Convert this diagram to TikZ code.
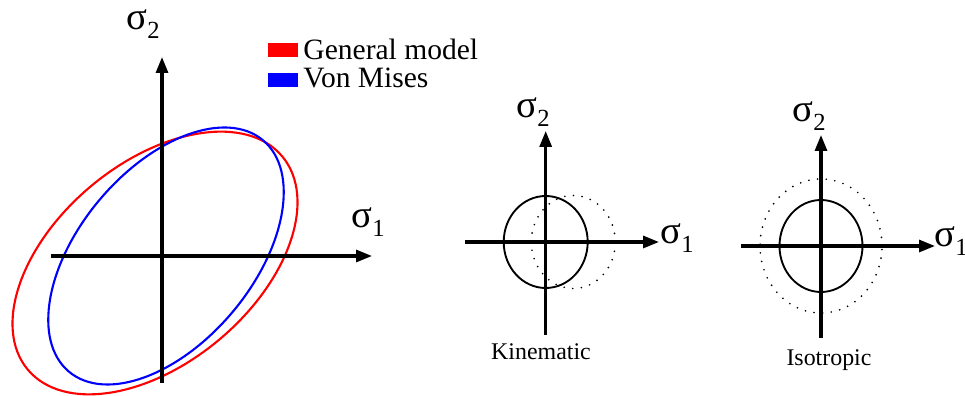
\documentclass[tikz,border=0pt]{standalone}
\usepackage{fontspec}
\setmainfont{Liberation Serif}
\usetikzlibrary{arrows.meta,positioning}
\definecolor{genred}{HTML}{FF0000}
\definecolor{misesblue}{HTML}{0000FF}
\newcommand{\sig}[1]{σ\raisebox{-0.55ex}{\fontsize{10.5}{10.5}\selectfont #1}}
\tikzset{
  axis/.style={-{Triangle[length=2.4mm,width=1.8mm]}, line width=1.3pt, draw=black},
  yieldcurve/.style={line width=0.9pt},
  surface/.style={draw=black, line width=0.8pt},
  oldsurface/.style={draw=black, line width=0.8pt, line cap=round,
                     dash pattern=on 0pt off 3.7pt},
  sigmalab/.style={font=\fontsize{16.5}{16.5}\selectfont, inner sep=0pt},
  caption/.style={font=\fontsize{10.2}{12}\selectfont, inner sep=0pt},
  legendbox/.style={minimum width=0.45cm, minimum height=0.21cm, inner sep=0pt},
  legendtext/.style={font=\fontsize{12.6}{14}\selectfont, inner sep=0pt, anchor=base west}
}

\begin{document}
\begin{tikzpicture}[x=0.015cm,y=0.015cm]
  \useasboundingbox (0,0) rectangle (965,396);
  % general model versus von mises
  \draw[yieldcurve,draw=genred,rotate around={40:(155,133)}] (155,133) ellipse (166 and 100);
  \draw[yieldcurve,draw=misesblue,rotate around={50:(166,140)}] (166,140) ellipse (151 and 87);
  \coordinate (h1s) at (51,140);  \coordinate (h1e) at (372,140);
  \coordinate (v1s) at (162,13);  \coordinate (v1e) at (162,339);
  \draw[axis] (h1s) -- (h1e);
  \draw[axis] (v1s) -- (v1e);
  \node[sigmalab] (s1a) at (368,174) {\sig{1}};
  \node[sigmalab] (s2a) at (143,372) {\sig{2}};
  % legend
  \node[legendbox,fill=genred] (kred) at (283,346) {};
  \node[legendbox,fill=misesblue] (kblue) at (283,316) {};
  \node[legendtext] (tred) at (303,336) {General model};
  \node[legendtext] (tblue) at (303,308) {Von Mises};
  % kinematic hardening
  \draw[oldsurface] (573.3,154) ellipse (42 and 46.5);
  \draw[surface] (545.7,154) ellipse (42 and 46);
  \coordinate (h2s) at (465,154);   \coordinate (h2e) at (659,154);
  \coordinate (v2s) at (545.7,61);  \coordinate (v2e) at (545.7,265);
  \draw[axis] (h2s) -- (h2e);
  \draw[axis] (v2s) -- (v2e);
  \node[sigmalab] (s1b) at (677,158) {\sig{1}};
  \node[sigmalab] (s2b) at (533,284) {\sig{2}};
  \node[caption] (kin) at (541,44) {Kinematic};
  % isotropic hardening
  \draw[oldsurface] (821,150) ellipse (61 and 67);
  \draw[surface] (821,150) ellipse (41.5 and 46);
  \coordinate (h3s) at (741,150);  \coordinate (h3e) at (935,150);
  \coordinate (v3s) at (821,58);   \coordinate (v3e) at (821,261);
  \draw[axis] (h3s) -- (h3e);
  \draw[axis] (v3s) -- (v3e);
  \node[sigmalab] (s1c) at (951,155) {\sig{1}};
  \node[sigmalab] (s2c) at (809,280) {\sig{2}};
  \node[caption] (iso) at (829,36) {Isotropic};
\end{tikzpicture}
\end{document}
